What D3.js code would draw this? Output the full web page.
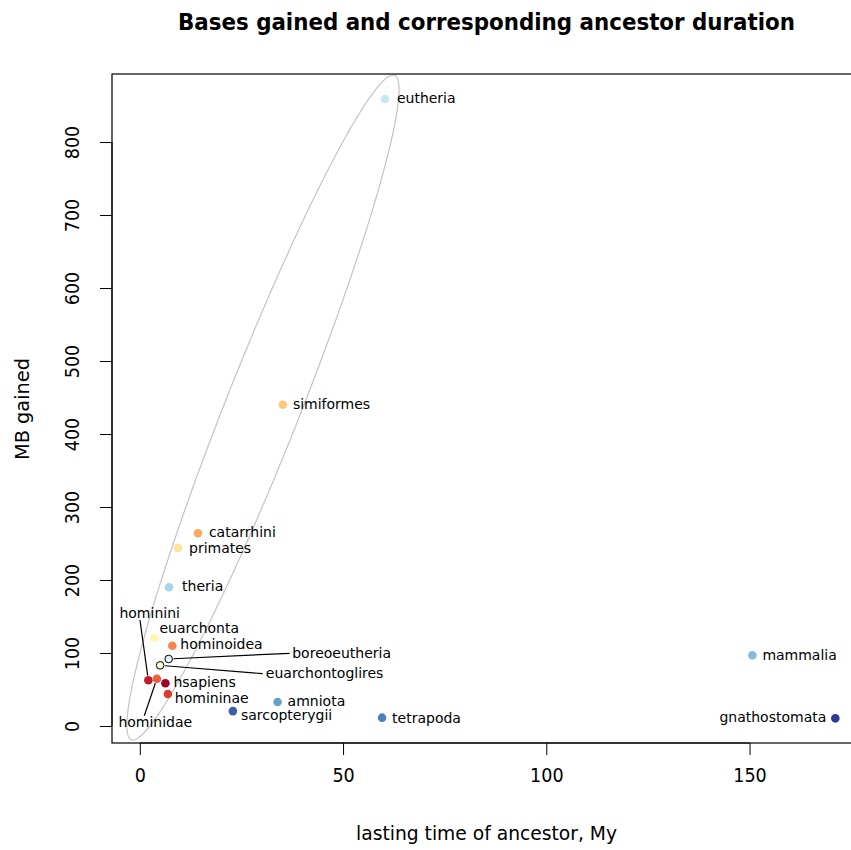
<!DOCTYPE html>
<html>
<head>
<meta charset="utf-8">
<script src="https://cdn.jsdelivr.net/npm/d3@7"></script>
<style>
  html, body { margin: 0; padding: 0; background: #fff; }
  svg { display: block; }
  .cond { font-family: "DejaVu Sans", sans-serif; font-stretch: condensed; }
  .lbl { font-family: "DejaVu Sans", sans-serif; font-size: 14px; fill: #000; }
</style>
</head>
<body>
<div id="chart"></div>
<script>
// Ancestral nodes along the human lineage
const names = ["hsapiens", "hominini", "homininae", "hominidae", "hominoidea", "catarrhini",
  "simiformes", "primates", "euarchonta", "euarchontoglires", "boreoeutheria", "eutheria",
  "theria", "mammalia", "amniota", "tetrapoda", "sarcopterygii", "gnathostomata"];
// Lasting time of each ancestor (My)
const lasting = [6.3, 2.1, 6.9, 4.2, 8.0, 14.3, 35.2, 9.4, 3.6, 5.0, 7.1, 60.3,
  7.2, 150.7, 33.9, 59.6, 22.9, 171.1];
// MB gained on each branch
const mbGained = [58.5, 62.6, 43.8, 64.8, 110.0, 264.0, 440.0, 244.0, 120.9, 83.1, 91.8, 859.0,
  190.0, 96.8, 32.9, 11.4, 20.4, 10.5];
// RdYlBu ramp, one colour per node
const nodeColors = ["#a50026", "#c21c27", "#dc3b2c", "#ed5f3c", "#f7844e", "#fdaa5f",
  "#fec87a", "#fee496", "#fff6b1", "#f6fcd0", "#e4f4f1", "#c7e7f1",
  "#a8d6e8", "#87bcd9", "#69a0ca", "#4d7fb9", "#3d5ba7", "#313695"];
// Nodes drawn as outlined circles
const outlined = ["boreoeutheria", "euarchontoglires"];

const xTicks = [0, 50, 100, 150];
const yTicks = [0, 100, 200, 300, 400, 500, 600, 700, 800];

// Ellipse around the primate/eutherian cluster: centre and conjugate semi-axes (data units)
const ellipseCenter = [30.3, 436.3];
const ellipseAxisU = [32.0, 455.5];
const ellipseAxisV = [9.84, 0];

const W = 851, H = 850;
const plot = { left: 112, top: 74, bottom: 743, right: 851 };

const x = d3.scaleLinear().domain([-6.84, 174.96]).range([plot.left, plot.right]);
const y = d3.scaleLinear().domain([-23.3, 893.2]).range([plot.bottom, plot.top]);

const svg = d3.select("#chart").append("svg").attr("width", W).attr("height", H);

const data = names.map((n, i) => ({ name: n, x: lasting[i], y: mbGained[i], color: nodeColors[i] }));

// Label placement: pixel offsets from the point, or a separate anchor with a leader line
const labelLayout = {
  eutheria: { dx: 12, dy: -1 },
  simiformes: { dx: 10, dy: -1 },
  catarrhini: { dx: 11, dy: -1 },
  primates: { dx: 11, dy: 0 },
  theria: { dx: 13, dy: -1 },
  mammalia: { dx: 10, dy: 0 },
  gnathostomata: { dx: -9, dy: -1, anchor: "end" },
  tetrapoda: { dx: 10, dy: 0 },
  amniota: { dx: 10, dy: -1.5 },
  sarcopterygii: { dx: 8, dy: 3.5 },
  homininae: { dx: 7, dy: 3.5 },
  hsapiens: { dx: 8, dy: -1.5 },
  hominoidea: { dx: 8, dy: -1.5 },
  euarchonta: { dx: 5, dy: -10 },
  hominini: { at: [2.43, 154.8], anchor: "middle", lineTo: [-9.7, 7] },
  hominidae: { at: [3.81, 5.9], anchor: "middle", lineTo: [-11, -6] },
  boreoeutheria: { at: [37.5, 99.6], anchor: "start", lineTo: [-2.5, 0] },
  euarchontoglires: { at: [31.0, 73.0], anchor: "start", lineTo: [-3, 1] }
};

// Ellipse (clipped to the plot region)
svg.append("clipPath").attr("id", "plotclip").append("rect")
  .attr("x", plot.left).attr("y", plot.top - 2)
  .attr("width", plot.right - plot.left + 5).attr("height", plot.bottom - plot.top + 2);

const ellPts = d3.range(0, 361).map(k => {
  const t = k * Math.PI / 180;
  return [x(ellipseCenter[0] + ellipseAxisU[0] * Math.cos(t) + ellipseAxisV[0] * Math.sin(t)),
          y(ellipseCenter[1] + ellipseAxisU[1] * Math.cos(t) + ellipseAxisV[1] * Math.sin(t))];
});
svg.append("path")
  .attr("clip-path", "url(#plotclip)")
  .attr("d", d3.line()(ellPts) + "Z")
  .attr("fill", "none")
  .attr("stroke", "#c4c4c4")
  .attr("stroke-width", 1.2);

// Leader lines
const r = 4.3;
data.forEach(d => {
  const L = labelLayout[d.name];
  if (!L || !L.at) return;
  const px = x(d.x), py = y(d.y);
  const lx = x(L.at[0]) + L.lineTo[0], ly = y(L.at[1]) + L.lineTo[1];
  const len = Math.hypot(lx - px, ly - py);
  const sx = px + (lx - px) / len * (r + 0.5), sy = py + (ly - py) / len * (r + 0.5);
  svg.append("line")
    .attr("x1", sx).attr("y1", sy).attr("x2", lx).attr("y2", ly)
    .attr("stroke", "#000").attr("stroke-width", 1.2);
});

// Points
svg.append("g").selectAll("circle").data(data).join("circle")
  .attr("cx", d => x(d.x))
  .attr("cy", d => y(d.y))
  .attr("r", d => outlined.includes(d.name) ? 3.8 : r)
  .attr("fill", d => d.color)
  .attr("stroke", d => outlined.includes(d.name) ? "#000" : "none")
  .attr("stroke-width", 1);

// Point labels
svg.append("g").selectAll("text").data(data).join("text")
  .attr("class", "lbl")
  .each(function (d) {
    const L = labelLayout[d.name];
    const t = d3.select(this);
    if (L.at) {
      t.attr("x", x(L.at[0])).attr("y", y(L.at[1])).attr("text-anchor", L.anchor);
    } else {
      t.attr("x", x(d.x) + L.dx).attr("y", y(d.y) + L.dy).attr("text-anchor", L.anchor || "start");
    }
  })
  .attr("dy", "0.36em")
  .text(d => d.name);

// Axes
const xAxis = svg.append("g").attr("transform", `translate(0,${plot.bottom})`)
  .call(d3.axisBottom(x).tickValues(xTicks).tickSize(12).tickPadding(13).tickFormat(d3.format("d")));
xAxis.select(".domain").attr("d", `M${x(xTicks[0])},0H${x(xTicks[xTicks.length - 1])}`).attr("stroke", "#000");
xAxis.selectAll("text").attr("class", "cond").attr("font-size", 19.5).attr("fill", "#000");

const yAxis = svg.append("g").attr("transform", `translate(${plot.left},0)`)
  .call(d3.axisLeft(y).tickValues(yTicks).tickSize(12).tickFormat(d3.format("d")));
yAxis.select(".domain").attr("d", `M0,${y(yTicks[0])}V${y(yTicks[yTicks.length - 1])}`).attr("stroke", "#000");
yAxis.selectAll(".tick text")
  .attr("class", "cond").attr("font-size", 19.5).attr("fill", "#000")
  .attr("x", null).attr("dy", null)
  .attr("text-anchor", "middle")
  .attr("transform", "translate(-40,0) rotate(-90)")
  .attr("y", 7);

// Plot box
svg.append("rect")
  .attr("x", plot.left).attr("y", plot.top)
  .attr("width", plot.right - plot.left + 10).attr("height", plot.bottom - plot.top)
  .attr("fill", "none").attr("stroke", "#000").attr("stroke-width", 1.2);

// Titles
svg.append("text")
  .attr("x", 486.5).attr("y", 30)
  .attr("text-anchor", "middle")
  .attr("font-family", "DejaVu Sans, sans-serif")
  .attr("font-weight", "bold").attr("font-size", 23)
  .attr("textLength", 617).attr("lengthAdjust", "spacingAndGlyphs")
  .text("Bases gained and corresponding ancestor duration");

svg.append("text")
  .attr("class", "cond")
  .attr("x", 486.5).attr("y", 840)
  .attr("text-anchor", "middle")
  .attr("font-size", 20)
  .attr("textLength", 261).attr("lengthAdjust", "spacingAndGlyphs")
  .text("lasting time of ancestor, My");

svg.append("text")
  .attr("class", "cond")
  .attr("transform", "translate(29,409) rotate(-90)")
  .attr("text-anchor", "middle")
  .attr("font-size", 20)
  .attr("textLength", 102).attr("lengthAdjust", "spacingAndGlyphs")
  .text("MB gained");
</script>
</body>
</html>
